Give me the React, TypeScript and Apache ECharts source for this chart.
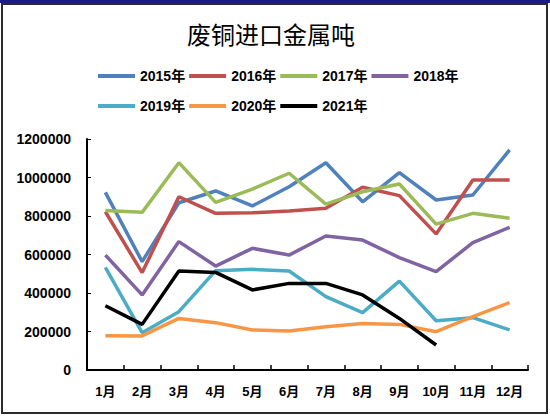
import React, { useEffect, useRef } from "react";
import * as echarts from "echarts";

const months = ["1月", "2月", "3月", "4月", "5月", "6月", "7月", "8月", "9月", "10月", "11月", "12月"];
const seriesNames = ["2015年", "2016年", "2017年", "2018年", "2019年", "2020年", "2021年"];
const colors = ["#4F81BD", "#C0504D", "#9BBB59", "#8064A2", "#4BACC6", "#F79646", "#000000"];

const v2015 = [923000, 563000, 869000, 930000, 852000, 952000, 1077000, 874000, 1025000, 883000, 909000, 1143000];
const v2016 = [822000, 506000, 900000, 814000, 817000, 826000, 840000, 949000, 906000, 707000, 987000, 987000];
const v2017 = [828000, 819000, 1077000, 871000, 940000, 1022000, 862000, 926000, 966000, 758000, 814000, 788000];
const v2018 = [597000, 390000, 667000, 540000, 632000, 597000, 696000, 675000, 584000, 511000, 662000, 741000];
const v2019 = [533000, 194000, 303000, 516000, 523000, 514000, 381000, 298000, 462000, 256000, 272000, 208000];
const v2020 = [178000, 177000, 268000, 246000, 208000, 203000, 225000, 242000, 237000, 199000, 277000, 350000];
const v2021 = [334000, 237000, 514000, 507000, 416000, 450000, 450000, 390000, 268000, 130000];

const allValues = [v2015, v2016, v2017, v2018, v2019, v2020, v2021];

const yMin = 0;
const yMax = 1200000;
const yInterval = 200000;

const labelFont = "Liberation Sans, Noto Sans CJK SC, sans-serif";

export default function App() {
  const ref = useRef<HTMLDivElement>(null);
  useEffect(() => {
    if (!ref.current) return;
    const chart = echarts.init(ref.current, null, { renderer: "svg" });
    const legendText = {
      fontSize: 14,
      fontWeight: "bold" as const,
      color: "#000",
      fontFamily: labelFont,
    };
    const legendBase = {
      icon: "rect",
      itemWidth: 37,
      itemHeight: 4,
      itemGap: 4,
      orient: "horizontal" as const,
      left: 98,
      textStyle: legendText,
      padding: 0,
    };
    chart.setOption({
      animation: false,
      backgroundColor: "#fff",
      title: {
        text: "废铜进口金属吨",
        left: 182,
        top: 16,
        textStyle: {
          fontSize: 24,
          fontWeight: "normal",
          color: "#000",
          fontFamily: "Noto Sans CJK SC, sans-serif",
        },
      },
      graphic: [
        { type: "rect", shape: { x: 0, y: 0, width: 550, height: 3 }, style: { fill: "#1c1c80" }, z: 100 },
        {
          type: "rect",
          shape: { x: 2, y: 4, width: 545, height: 409 },
          style: { fill: "none", stroke: "#2b2b2b", lineWidth: 2 },
          z: 100,
        },
      ],
      legend: [
        { ...legendBase, top: 69, data: seriesNames.slice(0, 4) },
        { ...legendBase, top: 99, data: seriesNames.slice(4) },
      ],
      grid: { left: 87, top: 139, width: 441, height: 231, containLabel: false },
      xAxis: {
        type: "category",
        data: months,
        boundaryGap: true,
        axisLine: { show: true, lineStyle: { color: "#000", width: 2 } },
        axisTick: { show: true, inside: true, length: 5, interval: 0, lineStyle: { color: "#000", width: 1.5 } },
        axisLabel: {
          interval: 0,
          hideOverlap: false,
          margin: 15,
          fontSize: 13,
          fontWeight: "bold",
          color: "#000",
          fontFamily: labelFont,
        },
        splitLine: { show: false },
      },
      yAxis: {
        type: "value",
        min: yMin,
        max: yMax,
        interval: yInterval,
        axisLine: { show: true, lineStyle: { color: "#000", width: 2 } },
        axisTick: { show: true, inside: true, length: 4, lineStyle: { color: "#000", width: 1 } },
        axisLabel: {
          margin: 16,
          fontSize: 14,
          fontWeight: "bold",
          color: "#000",
          fontFamily: labelFont,
          formatter: (v: number) => String(v),
        },
        splitLine: { show: false },
      },
      series: seriesNames.map((name, i) => ({
        name,
        type: "line",
        data: allValues[i],
        symbol: "none",
        showSymbol: false,
        color: colors[i],
        lineStyle: { width: 3.5, color: colors[i] },
        z: 2 + i,
      })),
    });
    return () => chart.dispose();
  }, []);
  return (
    <div
      ref={ref}
      style={{ position: "fixed", left: 0, top: 0, width: 550, height: 416 }}
    />
  );
}
